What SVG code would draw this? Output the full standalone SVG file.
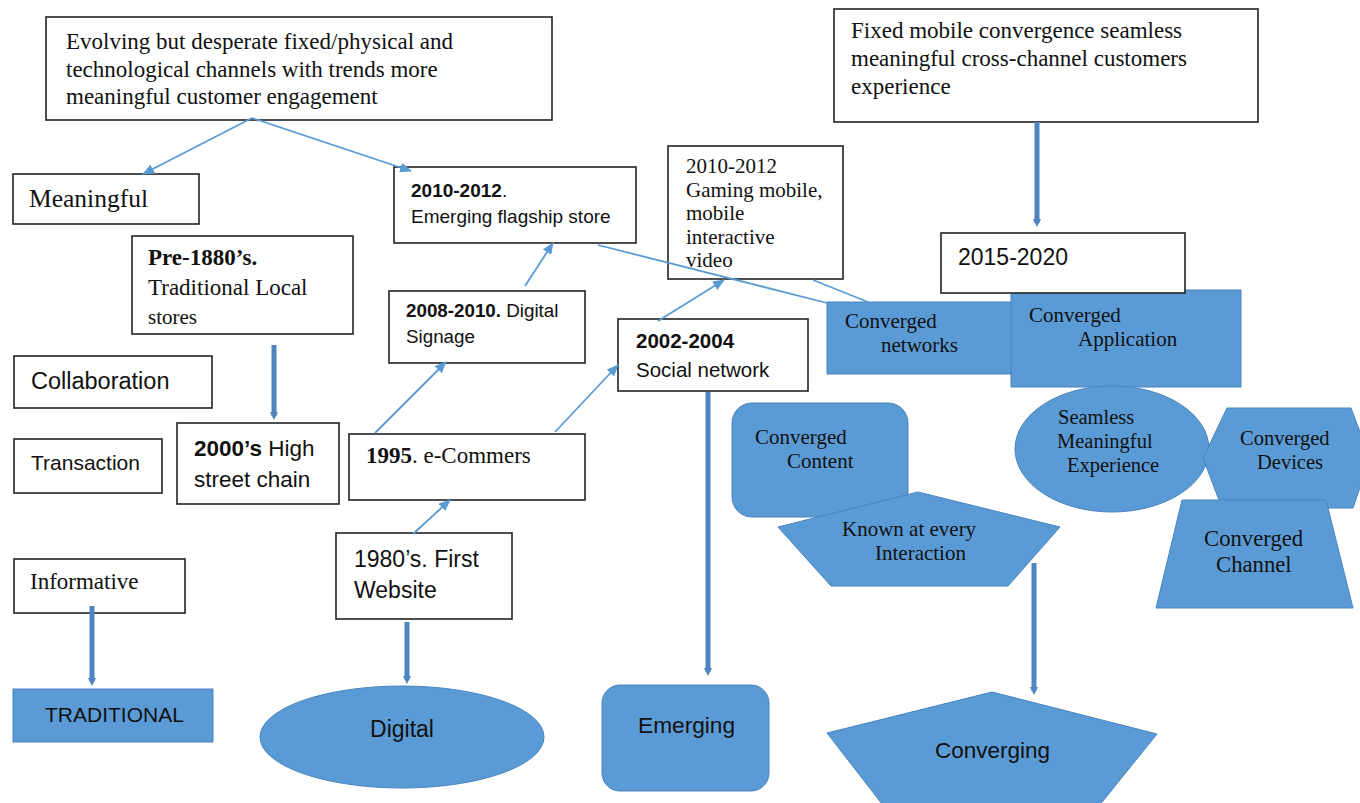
<svg xmlns="http://www.w3.org/2000/svg" width="1360" height="803" viewBox="0 0 1360 803">
<defs>
<style>
.box{fill:#fff;stroke:#222;stroke-width:1.6}
.blue{fill:#5b9bd5;stroke:#4a84bf;stroke-width:1}
.serif{font-family:"Liberation Serif","Times New Roman",serif;fill:#111}
.sans{font-family:"Liberation Sans",Arial,sans-serif;fill:#111}
.b{font-weight:bold}
.thin{stroke:#5b9bd5;stroke-width:1.8;fill:none}
.thick{stroke:#4f84c1;stroke-width:5;fill:none}
</style>
<marker id="ah" viewBox="0 0 12 10" refX="11" refY="5" markerWidth="12" markerHeight="10" markerUnits="userSpaceOnUse" orient="auto">
<path d="M0,0 L12,5 L0,10 z" fill="#5b9bd5"/>
</marker>
<marker id="th" viewBox="0 0 8 8" refX="4" refY="4" markerWidth="8" markerHeight="8" markerUnits="userSpaceOnUse" orient="auto">
<path d="M0,0 L8,4 L0,8 z" fill="#4f84c1"/>
</marker>
</defs>
<rect width="1360" height="803" fill="#fff"/>

<g id="n-top">
<rect class="box" x="46" y="17" width="506" height="103"/>
<text class="serif" font-size="23" x="66" y="49">Evolving but desperate fixed/physical and</text>
<text class="serif" font-size="23" x="66" y="77">technological channels with trends more</text>
<text class="serif" font-size="23" x="66" y="104">meaningful customer engagement</text>
</g>
<g id="n-fixed">
<rect class="box" x="834" y="9" width="424" height="113"/>
<text class="serif" font-size="23" x="851" y="38">Fixed mobile convergence seamless</text>
<text class="serif" font-size="23" x="851" y="66">meaningful cross-channel customers</text>
<text class="serif" font-size="23" x="851" y="94">experience</text>
</g>
<g id="n-meaningful">
<rect class="box" x="13" y="174" width="186" height="50"/>
<text class="serif" font-size="25.5" x="29" y="207">Meaningful</text>
</g>
<g id="n-flagship">
<rect class="box" x="394" y="167" width="242" height="76"/>
<text class="sans" font-size="19" x="411" y="197"><tspan class="b">2010-2012</tspan>.</text>
<text class="sans" font-size="19" x="411" y="223">Emerging flagship store</text>
</g>
<g id="n-gaming">
<rect class="box" x="668" y="146" width="175" height="133"/>
<text class="serif" font-size="21" x="686" y="173">2010-2012</text>
<text class="serif" font-size="21" x="686" y="197">Gaming mobile,</text>
<text class="serif" font-size="21" x="686" y="220">mobile</text>
<text class="serif" font-size="21" x="686" y="244">interactive</text>
<text class="serif" font-size="21" x="686" y="267">video</text>
</g>
<g id="n-pre1880">
<rect class="box" x="132" y="236" width="221" height="98"/>
<text class="serif b" font-size="23" x="148" y="265">Pre-1880’s.</text>
<text class="serif" font-size="23" x="148" y="295">Traditional Local</text>
<text class="serif" font-size="21" x="148" y="324">stores</text>
</g>
<g id="n-collab">
<rect class="box" x="14" y="356" width="198" height="52"/>
<text class="sans" font-size="23.5" x="31" y="389">Collaboration</text>
</g>
<g id="n-transaction">
<rect class="box" x="14" y="439" width="148" height="54"/>
<text class="sans" font-size="21" x="31" y="470">Transaction</text>
</g>
<g id="n-2000s">
<rect class="box" x="177" y="423" width="162" height="81"/>
<text class="sans" font-size="22.5" x="194" y="456"><tspan class="b">2000’s</tspan> High</text>
<text class="sans" font-size="22.5" x="194" y="487">street chain</text>
</g>
<g id="n-signage">
<rect class="box" x="389" y="291" width="196" height="72"/>
<text class="sans" font-size="18.8" x="406" y="317"><tspan class="b">2008-2010.</tspan> Digital</text>
<text class="sans" font-size="18.8" x="406" y="343">Signage</text>
</g>
<g id="n-social">
<rect class="box" x="618" y="319" width="190" height="72"/>
<text class="sans b" font-size="20.5" x="636" y="348">2002-2004</text>
<text class="sans" font-size="20.5" x="636" y="377">Social network</text>
</g>
<g id="n-ecommers">
<rect class="box" x="349" y="434" width="236" height="66"/>
<text class="serif" font-size="23" x="366" y="463"><tspan class="b">1995</tspan>. e-Commers</text>
</g>
<g id="n-website">
<rect class="box" x="336" y="533" width="176" height="86"/>
<text class="sans" font-size="23" x="354" y="567">1980’s. First</text>
<text class="sans" font-size="23" x="354" y="598">Website</text>
</g>
<g id="n-informative">
<rect class="box" x="14" y="559" width="171" height="54"/>
<text class="serif" font-size="23" x="30" y="589">Informative</text>
</g>
<g id="n-traditional">
<rect class="blue" x="13" y="689" width="200" height="53"/>
<text class="sans" font-size="21" x="45" y="722">TRADITIONAL</text>
</g>
<g id="n-digital">
<ellipse class="blue" cx="402" cy="737" rx="142" ry="51"/>
<text class="sans" font-size="23" x="402" y="737" text-anchor="middle">Digital</text>
</g>
<g id="n-emerging">
<rect class="blue" x="602" y="685" width="167" height="106" rx="18"/>
<text class="sans" font-size="22.7" x="638" y="733">Emerging</text>
</g>
<g id="n-converging">
<polygon class="blue" points="992,692 1157,734 1086,822 896,822 827,733"/>
<text class="sans" font-size="22.5" x="935" y="758">Converging</text>
</g>
<g id="n-networks">
<rect class="blue" x="827" y="302" width="190" height="72"/>
<text class="serif" font-size="21" x="845" y="328">Converged</text>
<text class="serif" font-size="21" x="881" y="352">networks</text>
</g>
<g id="n-application">
<rect class="blue" x="1011" y="290" width="230" height="97"/>
<text class="serif" font-size="21" x="1029" y="322">Converged</text>
<text class="serif" font-size="21" x="1078" y="346">Application</text>
</g>
<g id="n-2015">
<rect class="box" x="941" y="233" width="244" height="60"/>
<text class="sans" font-size="23" x="958" y="265">2015-2020</text>
</g>
<g id="n-content">
<rect class="blue" x="732" y="403" width="176" height="114" rx="20"/>
<text class="serif" font-size="21" x="755" y="444">Converged</text>
<text class="serif" font-size="21" x="787" y="468">Content</text>
</g>
<g id="n-known">
<polygon class="blue" points="918,492 1060,527 1008,586 831,586 778,527"/>
<text class="serif" font-size="21" x="842" y="536">Known at every</text>
<text class="serif" font-size="21" x="875" y="560">Interaction</text>
</g>
<g id="n-seamless">
<ellipse class="blue" cx="1112" cy="449" rx="97" ry="63"/>
<text class="serif" font-size="20.5" x="1058" y="424">Seamless</text>
<text class="serif" font-size="20.5" x="1057" y="448">Meaningful</text>
<text class="serif" font-size="20.5" x="1067" y="472">Experience</text>
</g>
<g id="n-devices">
<polygon class="blue" points="1227,408 1351,408 1370,458 1353,508 1222,508 1203,458"/>
<text class="serif" font-size="20.5" x="1240" y="445">Converged</text>
<text class="serif" font-size="20.5" x="1257" y="469">Devices</text>
</g>
<g id="n-channel">
<polygon class="blue" points="1182,500 1326,500 1353,608 1156,608"/>
<text class="serif" font-size="22.7" x="1204" y="546">Converged</text>
<text class="serif" font-size="22.7" x="1216" y="572">Channel</text>
</g>

<g id="connectors">
<line class="thin" x1="252" y1="118" x2="143" y2="174" marker-end="url(#ah)"/>
<line class="thin" x1="252" y1="118" x2="411" y2="171" marker-end="url(#ah)"/>
<line class="thin" x1="375" y1="433" x2="446" y2="362" marker-end="url(#ah)"/>
<line class="thin" x1="413" y1="534" x2="450" y2="500" marker-end="url(#ah)"/>
<line class="thin" x1="555" y1="432" x2="618" y2="365" marker-end="url(#ah)"/>
<line class="thin" x1="525" y1="286" x2="553" y2="243" marker-end="url(#ah)"/>
<line class="thin" x1="658" y1="321" x2="724" y2="280" marker-end="url(#ah)"/>
<line class="thin" x1="598" y1="245" x2="827" y2="303"/>
<line class="thin" x1="813" y1="280" x2="868" y2="302"/>
<line class="thick" x1="274" y1="345" x2="274" y2="416" marker-end="url(#th)"/>
<line class="thick" x1="92" y1="606" x2="92" y2="682" marker-end="url(#th)"/>
<line class="thick" x1="407" y1="622" x2="407" y2="680" marker-end="url(#th)"/>
<line class="thick" x1="708" y1="392" x2="708" y2="672" marker-end="url(#th)"/>
<line class="thick" x1="1037" y1="122" x2="1037" y2="223" marker-end="url(#th)"/>
<line class="thick" x1="1034" y1="563" x2="1034" y2="691" marker-end="url(#th)"/>
</g>
</svg>
